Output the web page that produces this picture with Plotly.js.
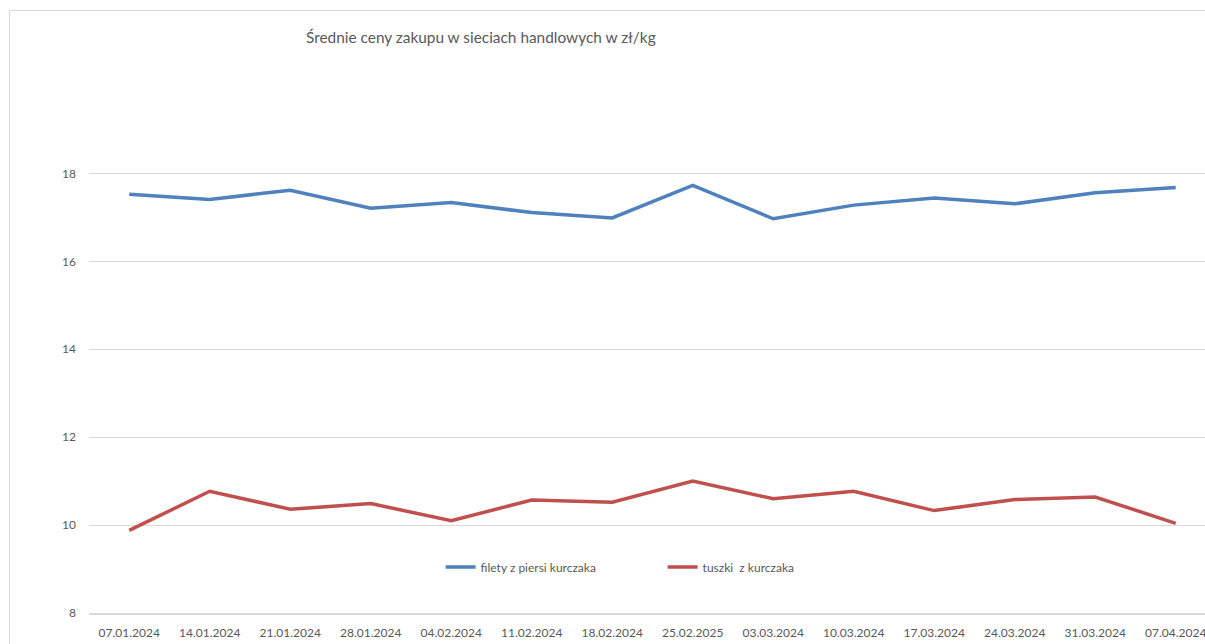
<!DOCTYPE html>
<html>
<head>
<meta charset="utf-8">
<script src="https://cdn.plot.ly/plotly-3.0.1.min.js"></script>
<style>
  html, body { margin: 0; padding: 0; overflow: hidden; background: #ffffff; width: 1205px; height: 644px; }
  #frame { position: absolute; left: 9px; top: 10px; width: 1300px; height: 700px; border-left: 1.5px solid #d9d9d9; border-top: 1.5px solid #d9d9d9; }
  #chart { position: absolute; left: 0; top: 0; }
</style>
</head>
<body>
<div id="frame"></div>
<div id="chart"></div>
<script>
const dates = ["07.01.2024","14.01.2024","21.01.2024","28.01.2024","04.02.2024","11.02.2024","18.02.2024","25.02.2025","03.03.2024","10.03.2024","17.03.2024","24.03.2024","31.03.2024","07.04.2024"];
const filety = [17.53,17.41,17.62,17.21,17.34,17.11,16.99,17.73,16.97,17.28,17.44,17.31,17.56,17.68];
const tuszki = [9.88,10.77,10.36,10.49,10.10,10.57,10.52,11.00,10.60,10.77,10.33,10.58,10.64,10.04];
const seriesNames = ["filety z piersi kurczaka","tuszki  z kurczaka"];
const titleText = "Średnie ceny zakupu w sieciach handlowych w zł/kg";

const font = "Lato, 'Open Sans', sans-serif";
const traces = [
  {x: dates, y: filety, name: seriesNames[0], type: "scatter", mode: "lines",
   line: {color: "#4F81BD", width: 3.5}},
  {x: dates, y: tuszki, name: seriesNames[1].replace("  ", "\u00a0 "), type: "scatter", mode: "lines",
   line: {color: "#C0504D", width: 3.5}}
];
const layout = {
  width: 1230, height: 644,
  margin: {l: 89, r: 14, t: 108, b: 31},
  paper_bgcolor: "rgba(0,0,0,0)", plot_bgcolor: "rgba(0,0,0,0)",
  font: {family: font, color: "#595959", size: 12},
  title: {text: titleText, font: {family: font, size: 15.4, color: "#595959"},
          x: 306/1230, xanchor: "left", xref: "container", y: 1 - 38/644, yanchor: "middle", yref: "container"},
  showlegend: true,
  legend: {orientation: "h", x: 0.312, xanchor: "left", y: 0.091, yanchor: "middle",
           bgcolor: "rgba(0,0,0,0)", font: {size: 12, color: "#595959"},
           entrywidth: 177, entrywidthmode: "pixels", itemwidth: 30},
  xaxis: {type: "category", range: [-0.5, 13.5], showgrid: false, zeroline: false,
          showline: true, linecolor: "#d9d9d9", linewidth: 1.5,
          ticks: "", ticklabelstandoff: 8, tickfont: {size: 12, color: "#595959"}, tickangle: 0,
          fixedrange: true},
  yaxis: {range: [8, 19.49], dtick: 2, tick0: 8, showgrid: true, gridcolor: "#d9d9d9", gridwidth: 1,
          zeroline: false, showline: false, ticks: "", ticklabelstandoff: 12,
          tickfont: {size: 12, color: "#595959"}, fixedrange: true}
};
Plotly.newPlot("chart", traces, layout, {displayModeBar: false, staticPlot: true});
</script>
</body>
</html>
